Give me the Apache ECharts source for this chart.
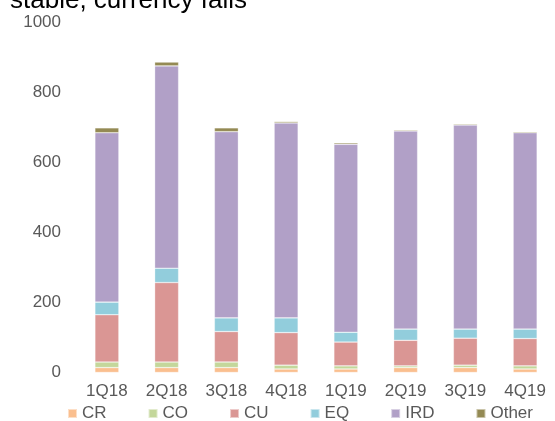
<!DOCTYPE html>
<html>
<head>
<meta charset="utf-8">
<script src="https://cdn.jsdelivr.net/npm/echarts@6/dist/echarts.min.js"></script>
<style>
  html, body { margin: 0; padding: 0; background: #fff; }
  #chart { width: 555px; height: 421px; }
</style>
</head>
<body>
<div id="chart"></div>
<script>
// quarters on the x axis
const quarters = ["1Q18", "2Q18", "3Q18", "4Q18", "1Q19", "2Q19", "3Q19", "4Q19"];

// stacked segments, bottom to top
const cr = [14, 14, 14, 10, 10, 14, 14, 10];
const co = [16, 16, 16, 11, 9, 5, 7, 9];
const cu = [135, 227, 87, 93, 68, 73, 77, 78];
const eq = [36, 41, 39, 42, 28, 32, 26, 27];
const ird = [484, 578, 532, 557, 537, 566, 583, 561];
const other = [14, 11, 11, 4, 4, 3, 3, 3];

const yTicks = [0, 200, 400, 600, 800, 1000];

const seriesDefs = [
  { name: "CR", data: cr, color: "#FABF8F" },
  { name: "CO", data: co, color: "#C4D79B" },
  { name: "CU", data: cu, color: "#DA9694" },
  { name: "EQ", data: eq, color: "#92CDDC" },
  { name: "IRD", data: ird, color: "#B1A0C7" },
  { name: "Other", data: other, color: "#948A54" },
];

function renderChart() {
  const font = "Liberation Sans, Arial, sans-serif";

  const options = {
    animation: false,
    title: {
      text: "stable, currency falls",
      left: 10,
      top: -12,
      padding: 0,
      textStyle: { fontSize: 26, fontWeight: "normal", color: "#000", fontFamily: font },
    },
    legend: {
      left: 67,
      top: 405,
      width: 488,
      padding: 0,
      itemWidth: 9,
      itemHeight: 9,
      itemGap: 41,
      icon: "rect",
      textStyle: { fontSize: 17, color: "#595959", fontFamily: font },
      data: seriesDefs.map((s) => s.name),
    },
    grid: {
      left: 77,
      top: 22.5,
      width: 483,
      bottom: 48.5,
      containLabel: false,
    },
    xAxis: {
      type: "category",
      data: quarters,
      axisLine: { show: false },
      axisTick: { show: false },
      axisLabel: { fontSize: 17, color: "#595959", fontFamily: font, margin: 10 },
    },
    yAxis: {
      type: "value",
      min: yTicks[0],
      max: yTicks[yTicks.length - 1],
      interval: yTicks[1] - yTicks[0],
      splitLine: { show: false },
      axisLine: { show: false },
      axisTick: { show: false },
      axisLabel: {
        fontSize: 17,
        color: "#595959",
        fontFamily: font,
        margin: 16,
        formatter: (v) => String(v),
      },
    },
    series: seriesDefs.map((s) => ({
      name: s.name,
      type: "bar",
      stack: "total",
      barWidth: 24,
      data: s.data,
      itemStyle: {
        color: s.color,
        borderColor: "rgba(255,255,255,0.5)",
        borderWidth: 0.6,
      },
    })),
  };

  const chart = echarts.init(document.querySelector("#chart"));
  chart.setOption(options);
}

document.addEventListener("DOMContentLoaded", renderChart);
</script>
</body>
</html>
